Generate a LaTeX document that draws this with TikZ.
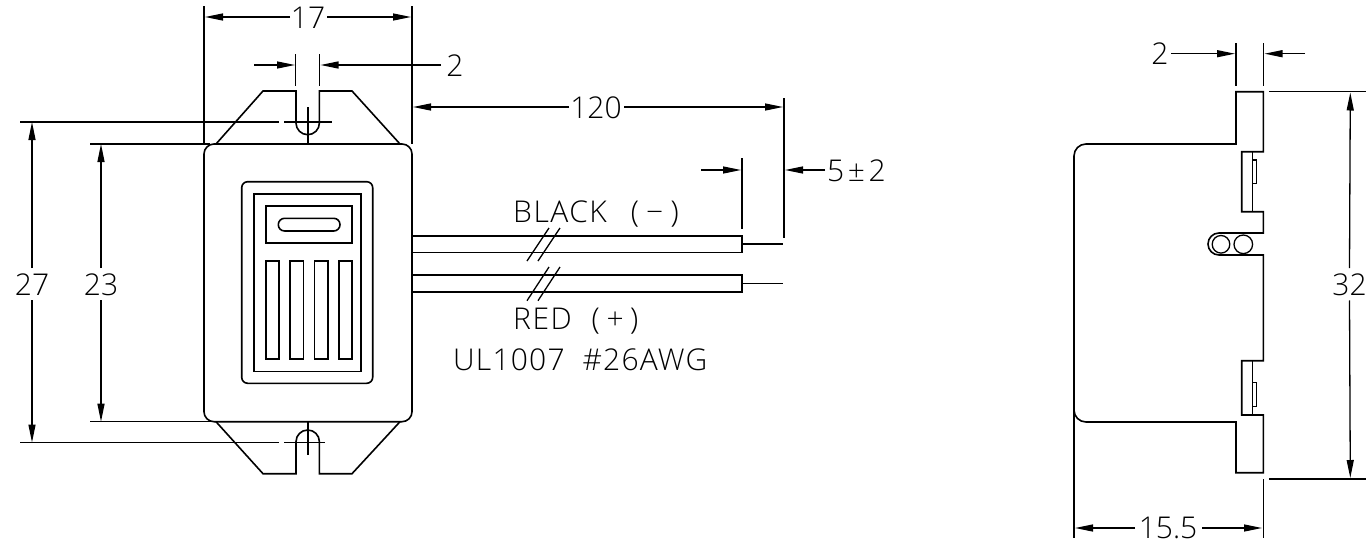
\documentclass[tikz,border=0pt]{standalone}
\usepackage{fontspec}
\setmainfont{Open Sans Light}
\usetikzlibrary{arrows.meta}
\tikzset{
  part/.style={line width=1.6pt,line join=miter},
  thin part/.style={line width=1.3pt},
  dimline/.style={line width=1.3pt},
  tipped/.style={dimline,-{Triangle[length=18pt,width=7pt]}},
  lab/.style={anchor=base,inner xsep=0pt,inner ysep=5pt,font=\fontsize{30}{30}\selectfont},
  ltxt/.style={anchor=base west,inner sep=0pt,font=\fontsize{30}{30}\selectfont}
}
\begin{document}
\begin{tikzpicture}[x=1pt,y=-1pt]
\useasboundingbox (0,0) rectangle (1366,544);
% front view body
\draw[part] (204,154) arc[start angle=180,end angle=270,radius=10] -- (402,144) arc[start angle=270,end angle=360,radius=10] -- (412,411.7) arc[start angle=0,end angle=90,radius=10] -- (214,421.7) arc[start angle=90,end angle=180,radius=10] -- cycle;
\draw[part] (216,144) -- (263,91) -- (296,91) -- (296,123) arc[start angle=180,end angle=0,radius=11.7] -- (319.4,91) -- (352,91) -- (400,144);
\draw[part] (216,421.7) -- (263,473.7) -- (296,473.7) -- (296,441.7) arc[start angle=180,end angle=360,radius=11.7] -- (319.4,473.7) -- (352,473.7) -- (400,421.7);
\draw[part,rounded corners=6pt] (241.7,181.7) rectangle (372.7,383.3);
\draw[part] (254,194) rectangle (360.7,371.3);
\draw[part] (266,206) rectangle (351.7,242.7);
\draw[part,rounded corners=6.3pt] (278.3,218.3) rectangle (340,231);
\foreach \a/\b in {266/279,290/303.3,314.3/327.7,338.7/351.7}
  \draw[part] (\a,260.7) rectangle (\b,359);
% centre lines
\draw[dimline] (308,107) -- (308,144);
\draw[dimline] (20,122) -- (279,122) (284,122) -- (332,122);
\draw[dimline] (308,421.7) -- (308,455);
\draw[dimline] (20,442.5) -- (279,442.5) (284,442.5) -- (325,442.5);
% wires
\draw[part] (412,235.7) -- (742,235.7) -- (742,252.3) -- (412,252.3);
\draw[part] (412,275) -- (742,275) -- (742,291.7) -- (412,291.7);
\draw[thin part] (742,244) -- (783,244) (742,283.7) -- (783,283.7);
\draw[thin part] (527,261) -- (549,228) (538,261) -- (560,228);
\draw[thin part] (527,300.7) -- (549,267) (538,300.7) -- (560,267);
% dimension 27 / 23
\node[lab] (d27) at (32,295) {27};
\node[lab] (d23) at (101,295) {23};
\draw[tipped] (d27.north) -- (32,122);
\draw[tipped] (d27.south) -- (32,442.5);
\draw[tipped] (d23.north) -- (101,144);
\draw[tipped] (d23.south) -- (101,421.7);
\draw[dimline] (90,144) -- (210,144) (90,421.7) -- (212,421.7);
% dimension 17
\draw[dimline] (204,6) -- (204,144) (412,6) -- (412,144);
\node[lab] (d17) at (308,28) {17};
\draw[tipped] (290,17) -- (205,17);
\draw[tipped] (327,17) -- (411,17);
% dimension 2
\draw[dimline] (295.5,54) -- (295.5,86) (319.5,54) -- (319.5,86);
\draw[tipped] (254,65) -- (295,65);
\draw[tipped] (441,65) -- (320.5,65);
\node[lab] (d2) at (455,76) {2};
% dimension 120
\node[lab] (d120) at (596,118) {120};
\draw[tipped] (569,107) -- (413,107);
\draw[tipped] (624,107) -- (783,107);
\draw[dimline] (784,98) -- (784,238);
% dimension 5±2
\draw[dimline] (742,158) -- (742,229);
\draw[tipped] (701,170) -- (741,170);
\draw[tipped] (825,170) -- (785,170);
\node[ltxt] (d5) at (827,181) {\addfontfeature{LetterSpace=12}5±2};
% wire labels
\node[ltxt] (tb) at (513,222) {\addfontfeature{LetterSpace=5}BLACK\hspace{24pt}\addfontfeature{LetterSpace=24}(−)};
\node[ltxt] (tr) at (513,329) {\addfontfeature{LetterSpace=5}RED\hspace{20pt}\addfontfeature{LetterSpace=22}(+)};
\node[ltxt] (tu) at (453,370) {\addfontfeature{LetterSpace=4}UL1007\hspace{18pt}\#26AWG};
% side view
\draw[part] (1236,91.7) -- (1263.3,91.7) -- (1263.3,151.7) -- (1241.7,151.7) -- (1241.7,211.7) -- (1263.3,211.7) -- (1263.3,233) -- (1219,233) arc[start angle=270,end angle=90,radius=11] -- (1263.3,255) -- (1263.3,360.7) -- (1241.7,360.7) -- (1241.7,415) -- (1263.3,415) -- (1263.3,472.7) -- (1236,472.7) -- (1236,422) -- (1086,422) arc[start angle=90,end angle=180,radius=12] -- (1074,156) arc[start angle=180,end angle=270,radius=12] -- (1236,144) -- cycle;
\draw[thin part] (1252.7,151.7) -- (1252.7,211.7) (1252.7,360.7) -- (1252.7,415);
\draw[thin part] (1252.7,160) rectangle (1256.7,183.3);
\draw[thin part] (1252.7,382.7) rectangle (1256.7,406.7);
\draw[thin part] (1221,244.3) circle[radius=8.8];
\draw[thin part] (1243.3,244.3) circle[radius=9.3];
% side dimensions
\draw[dimline] (1236,43) -- (1236,86) (1263.3,43) -- (1263.3,86);
\node[lab] (s2) at (1160,64.3) {2};
\draw[tipped] (1171,53.7) -- (1235,53.7);
\draw[tipped] (1305,53.7) -- (1264.5,53.7);
\draw[dimline] (1269,91.7) -- (1366,91.7) (1269,479) -- (1366,479);
\node[lab] (s32) at (1349.5,295) {32};
\draw[tipped] (s32.north) -- (1350.3,92.5);
\draw[tipped] (s32.south) -- (1350.3,478);
\draw[dimline] (1074,410) -- (1074,538) (1263.3,479) -- (1263.3,538);
\node[lab] (s155) at (1168,538.3) {15.5};
\draw[tipped] (1135,528) -- (1075,528);
\draw[tipped] (1202,528) -- (1262,528);
\end{tikzpicture}
\end{document}
